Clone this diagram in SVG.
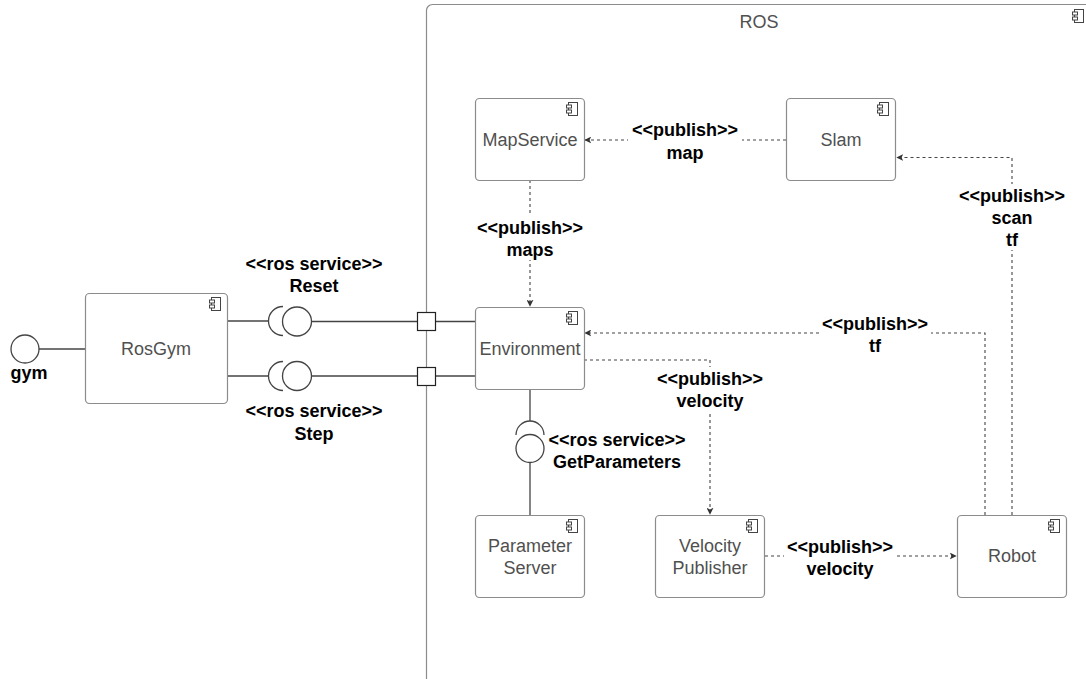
<svg xmlns="http://www.w3.org/2000/svg" width="1086" height="679" viewBox="0 0 1086 679">
  <style>
    .box { fill: #ffffff; stroke: #8c8c8c; stroke-width: 1.2; }
    .name { font-family: "Liberation Sans", Arial, sans-serif; font-size: 18px; fill: #505050; text-anchor: middle; }
    .lbl { font-family: "Liberation Sans", Arial, sans-serif; font-size: 18px; font-weight: bold; fill: #000000; text-anchor: middle; }
    .solid { fill: none; stroke: #444444; stroke-width: 1.3; }
    .dash { fill: none; stroke: #444444; stroke-width: 1.1; stroke-dasharray: 3 3; }
    .bg { fill: #ffffff; stroke: none; }
    .icon { fill: #ffffff; stroke: #444444; stroke-width: 1; }
  </style>
  <defs>
    <!-- small UML component glyph -->
    <g id="compIcon">
      <rect class="icon" x="2.5" y="0.5" width="9" height="13"/>
      <rect class="icon" x="0.5" y="3" width="5" height="3"/>
      <rect class="icon" x="0.5" y="8" width="5" height="3"/>
    </g>
    <marker id="arr" viewBox="0 0 10 10" refX="9" refY="5" markerWidth="7" markerHeight="7" markerUnits="userSpaceOnUse" orient="auto">
      <path d="M0,0 L10,5 L0,10 L2.5,5 Z" fill="#333333"/>
    </marker>
  </defs>

  <rect width="1086" height="679" fill="#ffffff"/>

  <!-- ROS container -->
  <g id="ros">
    <rect class="box" x="426.5" y="4.5" width="700" height="720" rx="6"/>
    <text class="name" x="759" y="28">ROS</text>
    <use href="#compIcon" x="1072" y="9"/>
  </g>

  <!-- connectors -->
  <g id="connectors">
    <!-- gym interface -->
    <line class="solid" x1="39" y1="349" x2="85" y2="349"/>
    <!-- Reset service -->
    <line class="solid" x1="228" y1="321" x2="268" y2="321"/>
    <path class="solid" d="M283,306.5 A14.5,14.5 0 0 0 283,335.5"/>
    <circle class="solid" cx="297" cy="321.5" r="14.5" fill="#ffffff"/>
    <line class="solid" x1="311.5" y1="321.5" x2="417" y2="321.5"/>
    <line class="solid" x1="436" y1="321.5" x2="475" y2="321.5"/>
    <!-- Step service -->
    <line class="solid" x1="228" y1="376" x2="268" y2="376"/>
    <path class="solid" d="M283,361.5 A14.5,14.5 0 0 0 283,390.5"/>
    <circle class="solid" cx="297" cy="376" r="14.5" fill="#ffffff"/>
    <line class="solid" x1="311.5" y1="376" x2="417" y2="376"/>
    <line class="solid" x1="436" y1="376" x2="475" y2="376"/>
    <!-- boundary ports -->
    <rect x="417.5" y="312.5" width="18" height="18" fill="#ffffff" stroke="#222222" stroke-width="1.2"/>
    <rect x="417.5" y="367.5" width="18" height="18" fill="#ffffff" stroke="#222222" stroke-width="1.2"/>

    <!-- GetParameters service -->
    <line class="solid" x1="530" y1="390" x2="530" y2="421"/>
    <path class="solid" d="M516,435 A14,14 0 0 1 544,435"/>
    <circle class="solid" cx="530" cy="448.5" r="14" fill="#ffffff"/>
    <line class="solid" x1="530" y1="462.5" x2="530" y2="515"/>

    <!-- Slam -> MapService -->
    <line class="dash" x1="786" y1="140" x2="585" y2="140" marker-end="url(#arr)"/>
    <!-- MapService -> Environment -->
    <line class="dash" x1="530" y1="180" x2="530" y2="306" marker-end="url(#arr)"/>
    <!-- Robot -> Slam -->
    <polyline class="dash" points="1012,515 1012,157.5 897,157.5" marker-end="url(#arr)"/>
    <!-- Robot -> Environment -->
    <polyline class="dash" points="985,515 985,333 585,333" marker-end="url(#arr)"/>
    <!-- Environment -> Velocity Publisher -->
    <polyline class="dash" points="584,360 710,360 710,514" marker-end="url(#arr)"/>
    <!-- Velocity Publisher -> Robot -->
    <line class="dash" x1="765" y1="556" x2="956" y2="556" marker-end="url(#arr)"/>

    <!-- connector labels -->
    <rect class="bg" x="628" y="119" width="114" height="44"/>
    <text class="lbl" x="685" y="136">&lt;&lt;publish&gt;&gt;</text>
    <text class="lbl" x="685" y="159">map</text>

    <rect class="bg" x="474" y="216" width="112" height="44"/>
    <text class="lbl" x="530" y="234">&lt;&lt;publish&gt;&gt;</text>
    <text class="lbl" x="530" y="256">maps</text>

    <rect class="bg" x="956" y="184" width="112" height="66"/>
    <text class="lbl" x="1012" y="202">&lt;&lt;publish&gt;&gt;</text>
    <text class="lbl" x="1012" y="224">scan</text>
    <text class="lbl" x="1012" y="246">tf</text>

    <rect class="bg" x="819" y="312" width="112" height="44"/>
    <text class="lbl" x="875" y="330">&lt;&lt;publish&gt;&gt;</text>
    <text class="lbl" x="875" y="352">tf</text>

    <rect class="bg" x="654" y="367" width="112" height="44"/>
    <text class="lbl" x="710" y="385">&lt;&lt;publish&gt;&gt;</text>
    <text class="lbl" x="710" y="407">velocity</text>

    <rect class="bg" x="784" y="535" width="112" height="44"/>
    <text class="lbl" x="840" y="553">&lt;&lt;publish&gt;&gt;</text>
    <text class="lbl" x="840" y="575">velocity</text>

    <text class="lbl" x="617" y="446">&lt;&lt;ros service&gt;&gt;</text>
    <text class="lbl" x="617" y="468">GetParameters</text>

    <text class="lbl" x="314" y="270">&lt;&lt;ros service&gt;&gt;</text>
    <text class="lbl" x="314" y="292">Reset</text>
    <text class="lbl" x="314" y="417">&lt;&lt;ros service&gt;&gt;</text>
    <text class="lbl" x="314" y="440">Step</text>
  </g>

  <!-- gym provided interface -->
  <g id="gym">
    <circle class="solid" cx="25" cy="349" r="14" fill="#ffffff"/>
    <text class="lbl" x="29" y="379">gym</text>
  </g>

  <g id="rosgym">
    <rect class="box" x="85.5" y="293.5" width="142" height="110" rx="4"/>
    <use href="#compIcon" x="209" y="297"/>
    <text class="name" x="156" y="355">RosGym</text>
  </g>

  <g id="mapservice">
    <rect class="box" x="475.5" y="98.5" width="109" height="82" rx="4"/>
    <use href="#compIcon" x="566" y="102"/>
    <text class="name" x="530" y="146">MapService</text>
  </g>

  <g id="slam">
    <rect class="box" x="786.5" y="98.5" width="109" height="82" rx="4"/>
    <use href="#compIcon" x="877" y="102"/>
    <text class="name" x="841" y="146">Slam</text>
  </g>

  <g id="environment">
    <rect class="box" x="475.5" y="307.5" width="109" height="82" rx="4"/>
    <use href="#compIcon" x="566" y="311"/>
    <text class="name" x="530" y="355">Environment</text>
  </g>

  <g id="parameterserver">
    <rect class="box" x="475.5" y="515.5" width="109" height="82" rx="4"/>
    <use href="#compIcon" x="566" y="519"/>
    <text class="name" x="530" y="552">Parameter</text>
    <text class="name" x="530" y="574">Server</text>
  </g>

  <g id="velocitypublisher">
    <rect class="box" x="655.5" y="515.5" width="109" height="82" rx="4"/>
    <use href="#compIcon" x="746" y="519"/>
    <text class="name" x="710" y="552">Velocity</text>
    <text class="name" x="710" y="574">Publisher</text>
  </g>

  <g id="robot">
    <rect class="box" x="957.5" y="515.5" width="109" height="82" rx="4"/>
    <use href="#compIcon" x="1048" y="519"/>
    <text class="name" x="1012" y="562">Robot</text>
  </g>
</svg>
